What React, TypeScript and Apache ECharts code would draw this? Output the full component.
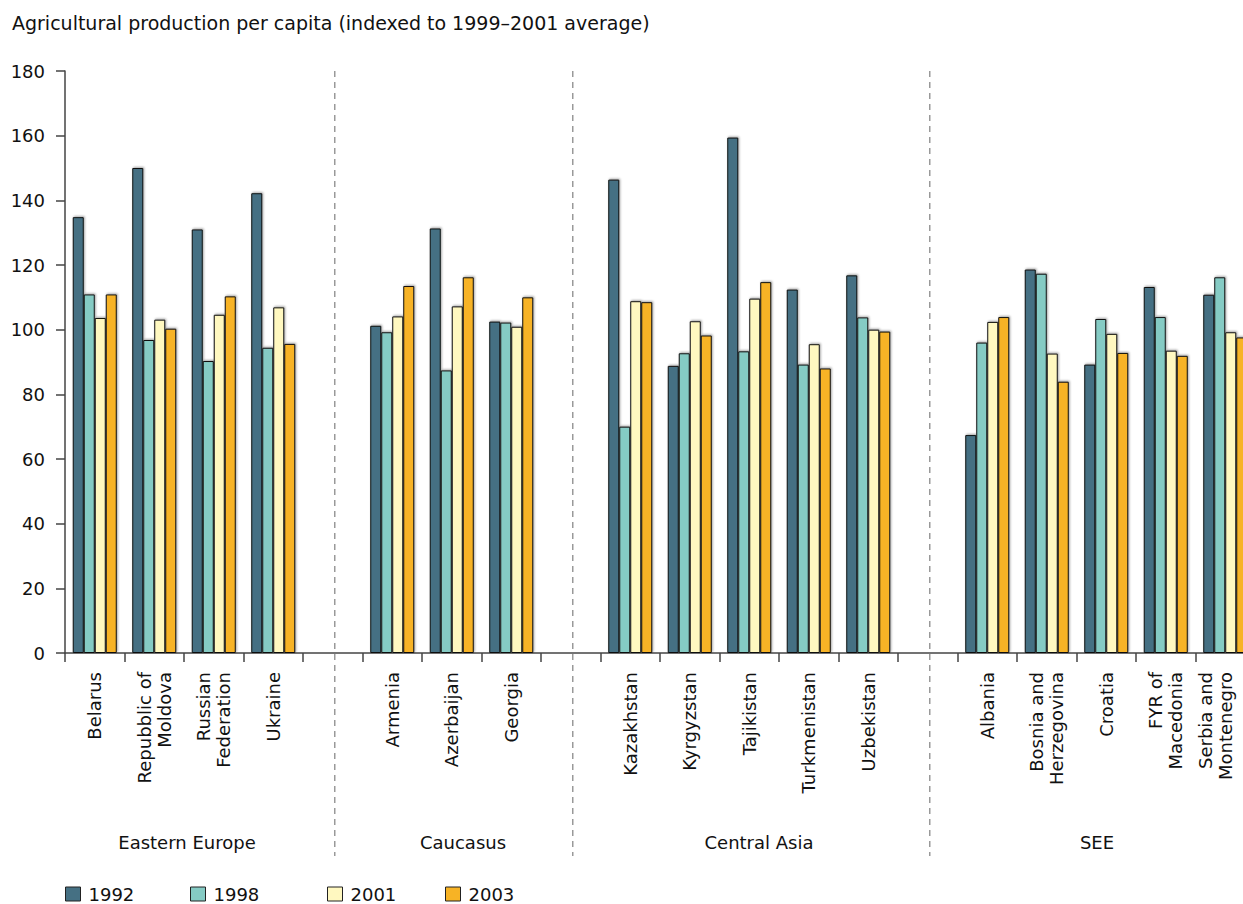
import React, { useEffect, useRef } from "react";
import * as echarts from "echarts";

const categories = [
  "Belarus", "Repubblic of\nMoldova", "Russian\nFederation", "Ukraine", " ",
  "Armenia", "Azerbaijan", "Georgia", "  ",
  "Kazakhstan", "Kyrgyzstan", "Tajikistan", "Turkmenistan", "Uzbekistan", "   ",
  "Albania", "Bosnia and\nHerzegovina", "Croatia", "FYR of\nMacedonia", "Serbia and\nMontenegro",
];

const v1992 = [134.8, 150, 131, 142.2, null, 101.2, 131.3, 102.5, null, 146.4, 88.8, 159.4, 112.4, 116.8, null, 67.4, 118.6, 89.2, 113.2, 110.8];
const v1998 = [110.9, 96.8, 90.3, 94.4, null, 99.2, 87.4, 102.2, null, 70, 92.7, 93.3, 89.2, 103.8, null, 96, 117.3, 103.3, 103.9, 116.2];
const v2001 = [103.6, 103.1, 104.6, 106.9, null, 104.1, 107.2, 100.9, null, 108.8, 102.6, 109.6, 95.5, 100, null, 102.4, 92.6, 98.7, 93.5, 99.2];
const v2003 = [110.9, 100.3, 110.3, 95.6, null, 113.5, 116.2, 110, null, 108.5, 98.2, 114.7, 88, 99.4, null, 103.9, 83.9, 92.8, 91.9, 97.6];

const seriesNames = ["1992", "1998", "2001", "2003"];
const seriesColors = ["#457083", "#85CBC4", "#FFF8C0", "#F7B325"];
const groupNames = ["Eastern Europe", "Caucasus", "Central Asia", "SEE"];
const separatorIndices = [4, 8, 14];

const yTicks = { min: 0, max: 180, interval: 20 };
const FONT = "DejaVu Sans";

export default function App() {
  const ref = useRef<HTMLDivElement>(null);
  useEffect(() => {
    document.body.style.margin = "0";
    document.body.style.overflow = "hidden";
    document.documentElement.style.overflow = "hidden";
    const chart = echarts.init(ref.current!, null, { renderer: "svg" });
    const values = [v1992, v1998, v2001, v2003];
    const legendLeft = [65, 190, 327, 445];
    const lastIdx = categories.length - 1;
    chart.setOption({
      animation: false,
      textStyle: { fontFamily: FONT },
      grid: { left: 65, top: 71, width: 1190, height: 582, containLabel: false },
      legend: seriesNames.map((n, i) => ({
        data: [n],
        left: legendLeft[i],
        top: 885,
        padding: 0,
        icon: "rect",
        itemWidth: 15,
        itemHeight: 14,
        itemStyle: { borderColor: "#222", borderWidth: 1 },
        textStyle: { fontSize: 18, color: "#111", fontFamily: FONT, padding: [0, 0, 0, 3] },
        selectedMode: false,
      })),
      xAxis: {
        type: "category",
        data: categories,
        axisLine: { lineStyle: { color: "#444", width: 1.5 } },
        axisTick: { show: true, length: 9, lineStyle: { color: "#444", width: 1.5 }, alignWithLabel: false },
        axisLabel: {
          interval: 0,
          rotate: 90,
          margin: 19,
          fontSize: 18,
          lineHeight: 20,
          color: "#111",
          fontFamily: FONT,
          formatter: (v: string, idx: number) => (idx === lastIdx ? v + "\n " : v),
        },
      },
      yAxis: {
        type: "value",
        min: yTicks.min,
        max: yTicks.max,
        interval: yTicks.interval,
        axisLine: { show: true, lineStyle: { color: "#444", width: 1.5 } },
        axisTick: { show: true, length: 9, lineStyle: { color: "#444", width: 1.5 } },
        splitLine: { show: false },
        axisLabel: { fontSize: 18, color: "#111", margin: 20, fontFamily: FONT },
      },
      series: seriesNames.map((n, i) => ({
        name: n,
        type: "bar",
        data: values[i],
        barWidth: 11,
        barGap: "0%",
        itemStyle: {
          color: seriesColors[i],
          borderColor: "#111",
          borderWidth: 1,
          shadowColor: "rgba(0,0,0,0.35)",
          shadowBlur: 2,
          shadowOffsetX: 1,
          shadowOffsetY: -1,
        },
      })),
    });

    const sepX = separatorIndices.map((i) => (chart.convertToPixel({ xAxisIndex: 0 }, i) as number) + 2);
    const groupX = [187, 463, 759, 1097];
    chart.setOption({
      graphic: [
        {
          type: "text",
          left: 12,
          top: 13,
          style: {
            text: "Agricultural production per capita (indexed to 1999–2001 average)",
            fontSize: 19,
            fontFamily: FONT,
            fill: "#111",
          },
        },
        ...sepX.map((x) => ({
          type: "line",
          shape: { x1: x, y1: 71, x2: x, y2: 856 },
          style: { stroke: "#999", lineWidth: 1.5, lineDash: [6, 5] },
          z: 10,
        })),
        ...groupNames.map((g, i) => ({
          type: "text",
          x: groupX[i],
          y: 842,
          style: {
            text: g,
            fontSize: 18,
            fontFamily: FONT,
            fill: "#111",
            align: "center",
            verticalAlign: "middle",
          },
        })),
      ],
    });
    return () => chart.dispose();
  }, []);
  return <div ref={ref} style={{ width: 1262, height: 904 }} />;
}
